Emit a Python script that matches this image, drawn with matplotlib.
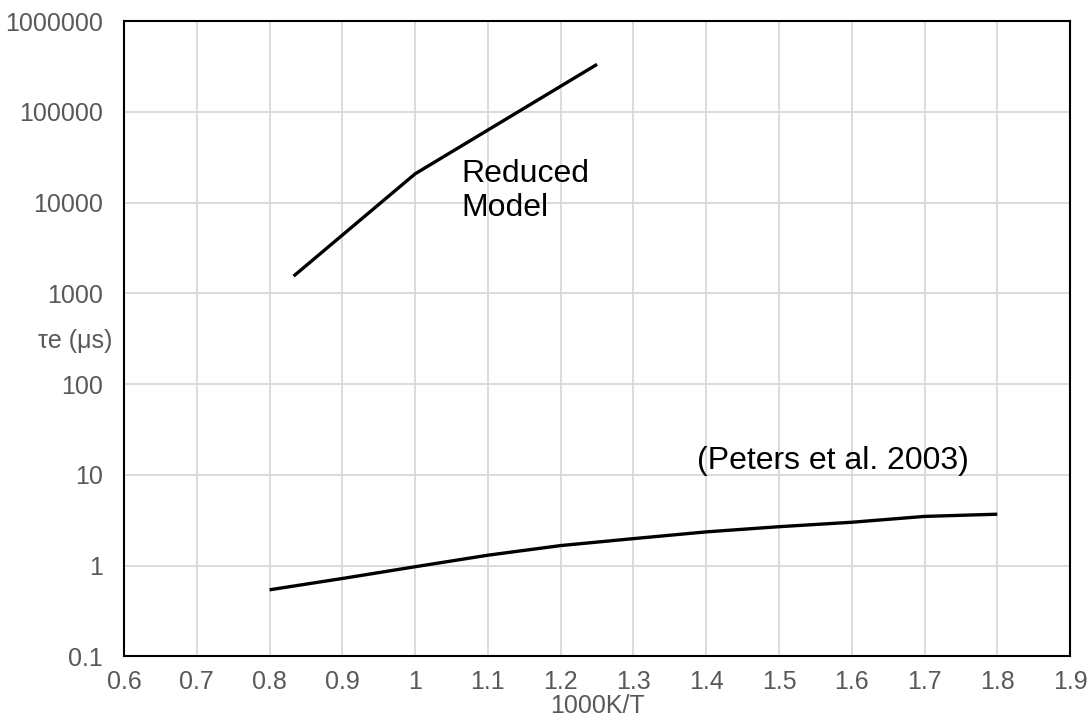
import numpy as np
import matplotlib.pyplot as plt
from matplotlib.ticker import FixedLocator, FuncFormatter

plt.rcParams['font.family'] = ['Liberation Sans', 'DejaVu Sans']

# Reduced model curve
reduced_x = [0.833, 1.0, 1.25]
reduced_y = [1550, 20800, 335000]

# Peters et al. 2003 curve
peters_x = [0.8, 0.9, 1.0, 1.1, 1.2, 1.3, 1.4, 1.5, 1.6, 1.7, 1.8]
peters_y = [0.54, 0.72, 0.97, 1.30, 1.66, 1.98, 2.35, 2.68, 3.0, 3.48, 3.68]

x_ticks = [0.6, 0.7, 0.8, 0.9, 1.0, 1.1, 1.2, 1.3, 1.4, 1.5, 1.6, 1.7, 1.8, 1.9]
y_ticks = [0.1, 1, 10, 100, 1000, 10000, 100000, 1000000]

fig = plt.figure(figsize=(10.92, 7.18), dpi=100)
ax = fig.add_axes([0.1136, 0.086, 0.8663, 0.8844])

ax.plot(reduced_x, reduced_y, color='black', linewidth=2.4, solid_capstyle='butt')
ax.plot(peters_x, peters_y, color='black', linewidth=2.4, solid_capstyle='butt')

ax.set_yscale('log')
ax.set_xlim(0.6, 1.9)
ax.set_ylim(0.1, 1000000)

ax.xaxis.set_major_locator(FixedLocator(x_ticks))
ax.xaxis.set_major_formatter(FuncFormatter(lambda v, p: f'{v:g}'))
ax.yaxis.set_major_locator(FixedLocator(y_ticks))
ax.yaxis.set_minor_locator(FixedLocator([]))
ax.yaxis.set_major_formatter(FuncFormatter(lambda v, p: f'{v:g}' if v < 1 else f'{int(round(v))}'))

ax.grid(True, color='#d9d9d9', linewidth=1.3)
ax.set_axisbelow(True)
for s in ax.spines.values():
    s.set_color('black')
    s.set_linewidth(1.5)

ax.tick_params(axis='both', length=0, labelsize=18, labelcolor='#595959')
ax.tick_params(axis='x', pad=10)
ax.tick_params(axis='y', pad=15)

ax.set_xlabel('1000K/T', fontsize=18, color='#595959')
ax.xaxis.set_label_coords(0.5, -0.06)
ax.text(-0.0127, 0.497, 'τe (μs)', transform=ax.transAxes, ha='right', va='center',
        fontsize=18, color='#595959')

ax.text(1.064, 13400, 'Reduced\nModel', fontsize=23, ha='left', va='center',
        linespacing=1.18)
ax.text(1.387, 14.1, '(Peters et al. 2003)', fontsize=23, ha='left', va='center')

plt.savefig('out.png', dpi=100)
